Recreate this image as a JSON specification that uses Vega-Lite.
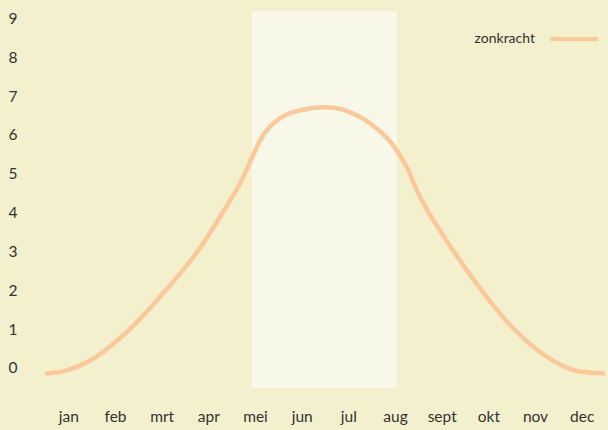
{
  "$schema": "https://vega.github.io/schema/vega-lite/v6.json",
  "width": 560,
  "height": 377,
  "autosize": {"type": "none"},
  "padding": {"left": 45, "top": 11, "right": 3, "bottom": 42},
  "background": "#f2f0cd",
  "config": {
    "view": {"stroke": null},
    "font": "Lato",
    "axis": {"labelFont": "Lato", "labelColor": "#333333", "labelFontSize": 15.5, "domain": false, "ticks": false, "tickSize": 0, "grid": false, "title": null}
  },
  "datasets": {
    "zon": [
      {"maand": 0.0, "waarde": -0.14},
      {"maand": 0.4, "waarde": -0.08},
      {"maand": 1.1, "waarde": 0.29},
      {"maand": 1.8, "waarde": 0.98},
      {"maand": 2.5, "waarde": 1.88},
      {"maand": 3.25, "waarde": 2.97},
      {"maand": 3.95, "waarde": 4.28},
      {"maand": 4.12, "waarde": 4.62},
      {"maand": 4.45, "waarde": 5.45},
      {"maand": 4.6, "waarde": 5.84},
      {"maand": 5.0, "waarde": 6.4},
      {"maand": 5.45, "waarde": 6.63},
      {"maand": 6.0, "waarde": 6.71},
      {"maand": 6.5, "waarde": 6.6},
      {"maand": 7.0, "waarde": 6.27},
      {"maand": 7.45, "waarde": 5.75},
      {"maand": 7.75, "waarde": 5.18},
      {"maand": 8.0, "waarde": 4.49},
      {"maand": 8.6, "waarde": 3.29},
      {"maand": 9.3, "waarde": 2.09},
      {"maand": 10.0, "waarde": 1.06},
      {"maand": 10.75, "waarde": 0.29},
      {"maand": 11.45, "waarde": -0.09},
      {"maand": 12.0, "waarde": -0.14}
    ],
    "zomer": [{"van": 4.435, "tot": 7.54}]
  },
  "layer": [
    {
      "data": {"name": "zomer"},
      "mark": {"type": "rect", "fill": "#f8f8e9"},
      "encoding": {
        "x": {"field": "van", "type": "quantitative", "scale": {"domain": [0, 12], "nice": false, "zero": false}},
        "x2": {"field": "tot"}
      }
    },
    {
      "data": {"name": "zon"},
      "mark": {"type": "line", "interpolate": "monotone", "strokeWidth": 4.5},
      "encoding": {
        "x": {
          "field": "maand",
          "type": "quantitative",
          "scale": {"domain": [0, 12], "nice": false, "zero": false},
          "axis": {
            "values": [0.5, 1.5, 2.5, 3.5, 4.5, 5.5, 6.5, 7.5, 8.5, 9.5, 10.5, 11.5],
            "labelExpr": "['jan','feb','mrt','apr','mei','jun','jul','aug','sept','okt','nov','dec'][floor(datum.value)]",
            "labelPadding": 21,
            "labelFlush": false
          }
        },
        "y": {
          "field": "waarde",
          "type": "quantitative",
          "scale": {"domain": [-0.515, 9.19], "nice": false, "zero": false},
          "axis": {"values": [0, 1, 2, 3, 4, 5, 6, 7, 8, 9], "labelPadding": 28, "labelFlush": false}
        },
        "color": {
          "datum": "zonkracht",
          "type": "nominal",
          "scale": {"range": ["#fdc898"]},
          "legend": {
            "title": null,
            "orient": "none",
            "legendX": 503,
            "legendY": 2,
            "padding": 0,
            "symbolType": "stroke",
            "symbolSize": 2304,
            "symbolStrokeWidth": 4,
            "labelAlign": "right",
            "labelOffset": -65,
            "labelFont": "Lato",
            "labelFontSize": 14,
            "labelColor": "#333333"
          }
        }
      }
    }
  ]
}
